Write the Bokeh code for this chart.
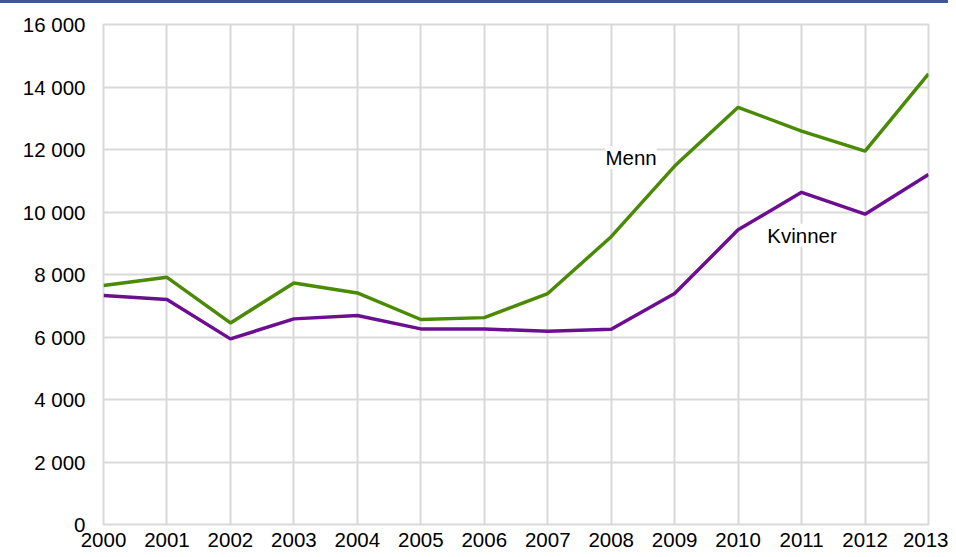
from bokeh.plotting import figure
from bokeh.models import Range1d, FixedTicker, Label, Div
from bokeh.layouts import column
from bokeh.embed import file_html
from bokeh.resources import INLINE

years = [2000, 2001, 2002, 2003, 2004, 2005, 2006, 2007, 2008, 2009, 2010, 2011, 2012, 2013]
menn = [7650, 7910, 6450, 7730, 7410, 6560, 6620, 7390, 9210, 11470, 13350, 12590, 11950, 14420]
kvinner = [7330, 7200, 5940, 6580, 6690, 6260, 6255, 6185, 6250, 7390, 9430, 10630, 9930, 11200]
y_ticks = [0, 2000, 4000, 6000, 8000, 10000, 12000, 14000, 16000]
y_tick_labels = ["0", "2 000", "4 000", "6 000", "8 000", "10 000", "12 000", "14 000", "16 000"]
series_names = ["Menn", "Kvinner"]

FONT = "Liberation Sans"
FS = "20.5px"
GREEN = "#4a8a05"
PURPLE = "#6c0e90"
GRID = "#d9d9d9"

W = 948
bar = Div(text="", width=W, height=3,
          styles={"background-color": "#3d5a8e", "padding": "0", "margin": "0"})

p = figure(width=W, height=546, output_backend="svg", toolbar_location=None,
           x_range=Range1d(years[0], years[-1]), y_range=Range1d(y_ticks[0], y_ticks[-1]),
           min_border_left=103, min_border_right=20, min_border_top=21, min_border_bottom=21)

p.line(years, menn, line_color=GREEN, line_width=3.5)
p.line(years, kvinner, line_color=PURPLE, line_width=3.5)

p.xaxis.ticker = FixedTicker(ticks=years)
p.yaxis.ticker = FixedTicker(ticks=y_ticks)
p.yaxis.major_label_overrides = {t: l for t, l in zip(y_ticks, y_tick_labels)}

for ax in (p.xaxis[0], p.yaxis[0]):
    ax.axis_line_color = None
    ax.major_tick_line_color = None
    ax.minor_tick_line_color = None
    ax.major_tick_out = 0
    ax.major_tick_in = 0
    ax.major_label_text_font = FONT
    ax.major_label_text_font_size = FS
    ax.major_label_text_color = "#000000"
p.yaxis.major_label_standoff = 18
p.xaxis.major_label_standoff = 8

p.xgrid.grid_line_color = GRID
p.ygrid.grid_line_color = GRID
p.xgrid.grid_line_width = 2
p.ygrid.grid_line_width = 2
p.outline_line_color = GRID
p.outline_line_width = 2

p.add_layout(Label(x=2007.91, y=11746, text=series_names[0], text_font=FONT, text_font_size=FS,
                   text_baseline="middle", text_align="left", text_color="#000000",
                   background_fill_color="white"))
p.add_layout(Label(x=2010.46, y=9254, text=series_names[1], text_font=FONT, text_font_size=FS,
                   text_baseline="middle", text_align="left", text_color="#000000",
                   background_fill_color="white"))

layout = column(bar, p, spacing=0)
open("out.html", "w").write(file_html(layout, INLINE))
